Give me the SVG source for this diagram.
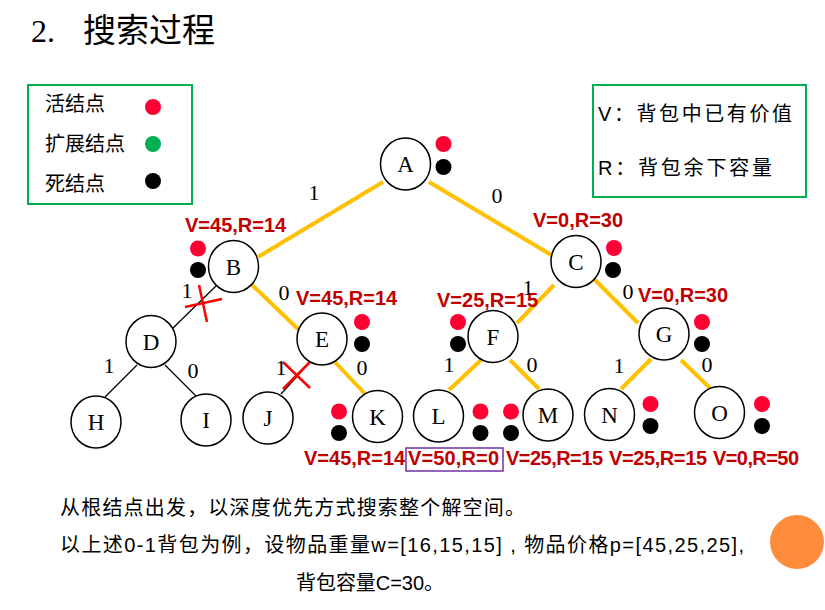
<svg xmlns="http://www.w3.org/2000/svg" width="825" height="610" viewBox="0 0 825 610">
<style>
.node ellipse{fill:#fff;stroke:#000;stroke-width:1.5}
.nm{font-family:"Liberation Serif",serif;font-size:23px;text-anchor:middle}
.e-or{stroke:#FFC000;stroke-width:4;fill:none}
.e-bk{stroke:#000;stroke-width:1.3;fill:none}
.x{stroke:#FF0000;stroke-width:2.5;fill:none}
.lbl{font-family:"Liberation Serif",serif;font-size:22px;text-anchor:middle}
.val{font-family:"Liberation Sans",Arial,sans-serif;font-size:20px;font-weight:bold;fill:#C00000;text-anchor:start}
.red{fill:#FF0033}.blk{fill:#000}.grn{fill:#00B050}
.leg{font-family:"Liberation Sans","Noto Sans CJK SC",sans-serif;font-size:20px}
.body{font-family:"Liberation Sans","Noto Sans CJK SC",sans-serif;font-size:20px}
.box{fill:none;stroke:#00B050;stroke-width:2}
</style>
<rect width="825" height="610" fill="#fff"/>
<g id="title">
<text x="31" y="42" font-family="Liberation Serif,serif" font-size="32">2.</text>
<text x="83" y="42" font-family="Noto Sans CJK SC,sans-serif" font-size="33">搜索过程</text>
</g>
<g id="legend-status">
<rect class="box" x="28" y="85" width="164" height="119"/>
<text class="leg" x="45" y="111">活结点</text>
<text class="leg" x="45" y="151">扩展结点</text>
<text class="leg" x="45" y="191">死结点</text>
<circle class="red" cx="153" cy="107" r="8"/>
<circle class="grn" cx="153" cy="144" r="8"/>
<circle class="blk" cx="153" cy="181" r="8"/>
</g>
<g id="legend-vr">
<rect class="box" x="593" y="85" width="213" height="112"/>
<text class="leg" x="598" y="121" textLength="194">V：背包中已有价值</text>
<text class="leg" x="598" y="175" textLength="174">R：背包余下容量</text>
</g>
<g id="connectors">
<line class="e-or" x1="383" y1="182" x2="258" y2="257"/>
<line class="e-or" x1="429" y1="182" x2="553" y2="256"/>
<line class="e-or" x1="250" y1="283" x2="298" y2="329"/>
<line class="e-or" x1="333" y1="360" x2="368" y2="397"/>
<line class="e-or" x1="554" y1="285" x2="517" y2="323"/>
<line class="e-or" x1="593" y1="278" x2="638" y2="323"/>
<line class="e-or" x1="481" y1="360" x2="449" y2="390"/>
<line class="e-or" x1="510" y1="360" x2="539" y2="389"/>
<line class="e-or" x1="651" y1="359" x2="621" y2="389"/>
<line class="e-or" x1="681" y1="360" x2="711" y2="389"/>
<line class="e-bk" x1="216" y1="286" x2="173" y2="328"/>
<line class="e-bk" x1="137" y1="365" x2="105" y2="397"/>
<line class="e-bk" x1="165" y1="365" x2="197" y2="397"/>
<line class="e-bk" x1="310" y1="362" x2="281" y2="394"/>
<line class="x" x1="185" y1="307" x2="222" y2="299"/>
<line class="x" x1="199" y1="285" x2="207" y2="322"/>
<line class="x" x1="283" y1="362" x2="310" y2="388"/>
<line class="x" x1="310" y1="362" x2="283" y2="389"/>
<text class="lbl" x="314" y="200">1</text>
<text class="lbl" x="497" y="203">0</text>
<text class="lbl" x="187" y="298">1</text>
<text class="lbl" x="284" y="300">0</text>
<text class="lbl" x="528" y="295">1</text>
<text class="lbl" x="628" y="299">0</text>
<text class="lbl" x="109" y="373">1</text>
<text class="lbl" x="193" y="378">0</text>
<text class="lbl" x="281" y="375">1</text>
<text class="lbl" x="362" y="375">0</text>
<text class="lbl" x="449" y="372">1</text>
<text class="lbl" x="532" y="372">0</text>
<text class="lbl" x="619" y="373">1</text>
<text class="lbl" x="707" y="372">0</text>
</g>
<g id="node-A" class="node"><ellipse cx="405.5" cy="164" rx="25" ry="26"/><text class="nm" x="405.5" y="172">A</text><circle class="red" cx="443.5" cy="144" r="8"/><circle class="blk" cx="443.5" cy="167" r="8"/></g>
<g id="node-B" class="node"><ellipse cx="233.5" cy="266.5" rx="25" ry="26"/><text class="nm" x="233.5" y="274.5">B</text><circle class="red" cx="198" cy="248.5" r="8"/><circle class="blk" cx="198" cy="270" r="8"/><text class="val" x="185" y="232">V=45,R=14</text></g>
<g id="node-C" class="node"><ellipse cx="576" cy="261.5" rx="25" ry="26"/><text class="nm" x="576" y="269.5">C</text><circle class="red" cx="614" cy="248" r="8"/><circle class="blk" cx="613" cy="270" r="8"/><text class="val" x="533" y="227">V=0,R=30</text></g>
<g id="node-D" class="node"><ellipse cx="151" cy="341.5" rx="25" ry="26"/><text class="nm" x="151" y="349.5">D</text></g>
<g id="node-E" class="node"><ellipse cx="322" cy="339" rx="25" ry="26"/><text class="nm" x="322" y="347">E</text><circle class="red" cx="362" cy="322" r="8"/><circle class="blk" cx="362" cy="344" r="8"/><text class="val" x="296" y="305">V=45,R=14</text></g>
<g id="node-F" class="node"><ellipse cx="493" cy="336.5" rx="25" ry="26"/><text class="nm" x="493" y="344.5">F</text><circle class="red" cx="458" cy="322" r="8"/><circle class="blk" cx="458" cy="344" r="8"/><text class="val" x="437" y="307">V=25,R=15</text></g>
<g id="node-G" class="node"><ellipse cx="664" cy="334" rx="25" ry="26"/><text class="nm" x="664" y="342">G</text><circle class="red" cx="702" cy="322" r="8"/><circle class="blk" cx="702" cy="344" r="8"/><text class="val" x="638" y="302">V=0,R=30</text></g>
<g id="node-H" class="node"><ellipse cx="96" cy="422" rx="25" ry="26"/><text class="nm" x="96" y="430">H</text></g>
<g id="node-I" class="node"><ellipse cx="206" cy="420" rx="25" ry="26"/><text class="nm" x="206" y="428">I</text></g>
<g id="node-J" class="node"><ellipse cx="268" cy="418" rx="25" ry="26"/><text class="nm" x="268" y="426">J</text></g>
<g id="node-K" class="node"><ellipse cx="377.5" cy="416.5" rx="25" ry="26"/><text class="nm" x="377.5" y="424.5">K</text><circle class="red" cx="339" cy="411.5" r="8"/><circle class="blk" cx="339" cy="433" r="8"/><text class="val" x="304" y="465">V=45,R=14</text></g>
<g id="node-L" class="node"><ellipse cx="438.5" cy="416" rx="25" ry="26"/><text class="nm" x="438.5" y="424">L</text><circle class="red" cx="480.5" cy="411.5" r="8"/><circle class="blk" cx="480.5" cy="433" r="8"/><rect x="406" y="448" width="97" height="23" fill="none" stroke="#7030A0" stroke-width="1.5"/><text class="val" x="408" y="465" textLength="91">V=50,R=0</text></g>
<g id="node-M" class="node"><ellipse cx="548" cy="415" rx="25" ry="26"/><text class="nm" x="548" y="423">M</text><circle class="red" cx="511" cy="411.5" r="8"/><circle class="blk" cx="511" cy="433" r="8"/><text class="val" x="506" y="465" textLength="97">V=25,R=15</text></g>
<g id="node-N" class="node"><ellipse cx="609.5" cy="414.5" rx="25" ry="26"/><text class="nm" x="609.5" y="422.5">N</text><circle class="red" cx="650.5" cy="404" r="8"/><circle class="blk" cx="650.5" cy="426" r="8"/><text class="val" x="609" y="465" textLength="98">V=25,R=15</text></g>
<g id="node-O" class="node"><ellipse cx="719.5" cy="412.5" rx="25" ry="26"/><text class="nm" x="719.5" y="420.5">O</text><circle class="red" cx="762" cy="404" r="8"/><circle class="blk" cx="762" cy="426" r="8"/><text class="val" x="713" y="465" textLength="86">V=0,R=50</text></g>
<g id="description">
<text class="body" x="60" y="515" textLength="465">从根结点出发，以深度优先方式搜索整个解空间。</text>
<text class="body" x="60" y="552" textLength="684">以上述0-1背包为例，设物品重量w=[16,15,15] , 物品价格p=[45,25,25],</text>
<text class="body" x="296" y="590" textLength="148">背包容量C=30。</text>
</g>
<circle id="deco" cx="797" cy="542" r="27" fill="#FF8C3A"/>
</svg>
